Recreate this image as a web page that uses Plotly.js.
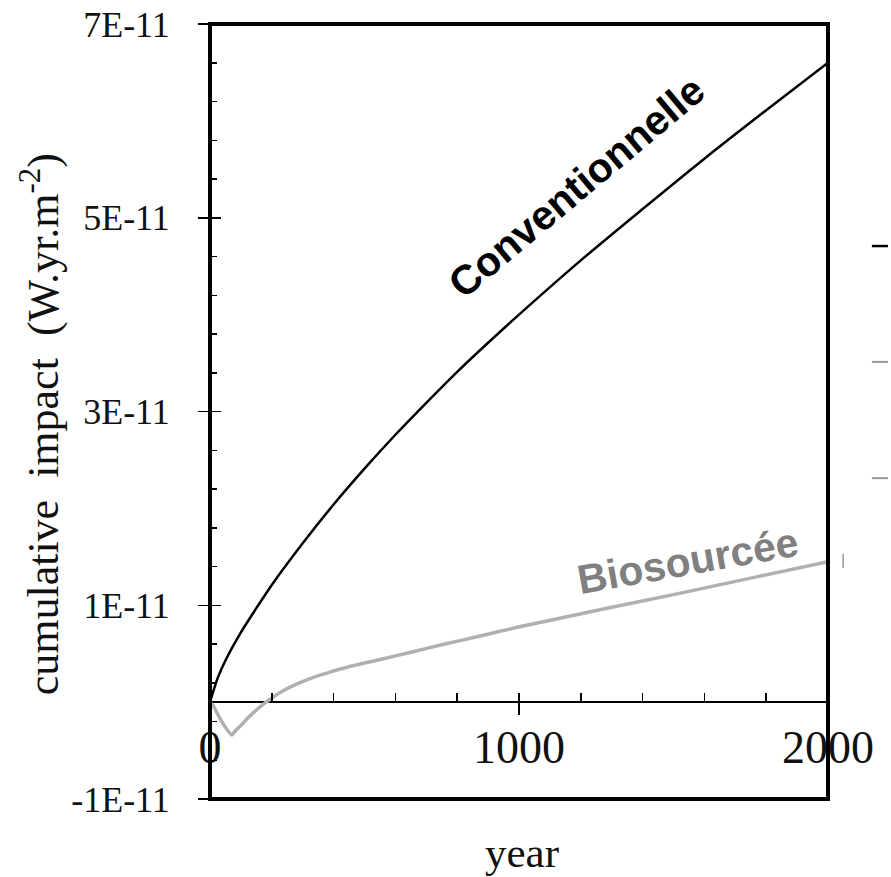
<!DOCTYPE html>
<html>
<head>
<meta charset="utf-8">
<script src="https://cdn.plot.ly/plotly-3.0.1.min.js"></script>
<style>html,body{margin:0;padding:0;background:#fff;}#chart{width:891px;height:877px;}</style>
</head>
<body>
<div id="chart"></div>
<script>
// values in units of 1E-11 W.yr.m-2
const yearsConv = [0, 25, 50, 100, 150, 200, 300, 400, 500, 600, 700, 800, 900, 1000, 1200, 1400, 1600, 1800, 2000];
const conventionnelle = [0, 0.25, 0.43, 0.72, 0.97, 1.21, 1.64, 2.04, 2.41, 2.76, 3.09, 3.41, 3.71, 4.00, 4.56, 5.09, 5.61, 6.11, 6.60];
const yearsBio = [0, 10, 30, 50, 70, 81, 100, 119, 145, 173, 200, 227, 280, 335, 390, 443, 551, 650, 760, 864, 1005, 1250, 1500, 1750, 2000];
const biosourcee = [0, -0.035, -0.155, -0.26, -0.34, -0.30, -0.24, -0.175, -0.095, -0.02, 0.043, 0.10, 0.185, 0.255, 0.312, 0.36, 0.44, 0.515, 0.60, 0.675, 0.78, 0.945, 1.11, 1.28, 1.45];

const yMajorVals = [-1, 1, 3, 5, 7];
const yMajorText = ['-1E-11', '1E-11', '3E-11', '5E-11', '7E-11'];
const yInnerMajorVals = [1, 3, 5];
const xLabelVals = [0, 1000, 2000];
const xLabelText = ['0', '1000', '2000'];
const xMinorVals = [200, 400, 600, 800, 1000, 1200, 1400, 1600, 1800];
const xCrossVals = [1000];

const serif = 'Liberation Serif, Times New Roman, serif';
const sans = 'Liberation Sans, Arial, sans-serif';

const traces = [
  {x: yearsConv, y: conventionnelle, type: 'scatter', mode: 'lines', line: {color: '#000', width: 2.5, shape: 'spline', smoothing: 0.8}, hoverinfo: 'skip', showlegend: false},
  {x: yearsBio, y: biosourcee, type: 'scatter', mode: 'lines', line: {color: '#b0b0b0', width: 3.5, shape: 'spline', smoothing: 0.5}, hoverinfo: 'skip', showlegend: false},
  // empty traces so the overlay tick axes are drawn
  {x: [], y: [], xaxis: 'x2', yaxis: 'y', type: 'scatter', mode: 'lines', hoverinfo: 'skip', showlegend: false},
  {x: [], y: [], xaxis: 'x3', yaxis: 'y', type: 'scatter', mode: 'lines', hoverinfo: 'skip', showlegend: false},
  {x: [], y: [], xaxis: 'x', yaxis: 'y2', type: 'scatter', mode: 'lines', hoverinfo: 'skip', showlegend: false}
];

const zeroPos = 1 / 8;
const layout = {
  width: 891, height: 877,
  margin: {l: 210, r: 63, t: 24, b: 78, pad: 0},
  paper_bgcolor: '#fff', plot_bgcolor: '#fff',
  showlegend: false,
  xaxis: {
    range: [0, 2000], anchor: 'free', position: zeroPos,
    showgrid: false, zeroline: false, showline: false,
    tickmode: 'array', tickvals: xLabelVals, ticktext: xLabelText,
    ticks: 'inside', ticklen: 9, tickwidth: 1.5, tickcolor: '#000',
    ticklabelstandoff: 14,
    tickfont: {family: serif, size: 46, color: '#111'},
    fixedrange: true
  },
  xaxis2: {
    range: [0, 2000], overlaying: 'x', anchor: 'free', position: zeroPos,
    showgrid: false, zeroline: false, showline: false,
    tickmode: 'array', tickvals: xMinorVals, showticklabels: false,
    ticks: 'inside', ticklen: 9, tickwidth: 1.5, tickcolor: '#000', fixedrange: true
  },
  xaxis3: {
    range: [0, 2000], overlaying: 'x', anchor: 'free', position: zeroPos,
    showgrid: false, zeroline: false, showline: false,
    tickmode: 'array', tickvals: xCrossVals, showticklabels: false,
    ticks: 'outside', ticklen: 12, tickwidth: 1.5, tickcolor: '#000', fixedrange: true
  },
  yaxis: {
    range: [-1, 7],
    showgrid: false, zeroline: true, zerolinecolor: '#000', zerolinewidth: 1.5,
    showline: false,
    tickmode: 'array', tickvals: yMajorVals, ticktext: yMajorText,
    ticks: 'outside', ticklen: 11, tickwidth: 1.5, tickcolor: '#000',
    ticklabelstandoff: 21,
    tickfont: {family: serif, size: 36, color: '#111'},
    minor: {tick0: -1, dtick: 0.4, ticks: 'inside', ticklen: 7, tickwidth: 1.5, tickcolor: '#000'},
    fixedrange: true
  },
  yaxis2: {
    range: [-1, 7], overlaying: 'y', side: 'left', anchor: 'x',
    showgrid: false, zeroline: false, showline: false,
    tickmode: 'array', tickvals: yInnerMajorVals, showticklabels: false,
    ticks: 'inside', ticklen: 11, tickwidth: 1.5, tickcolor: '#000', fixedrange: true
  },
  shapes: [
    {type: 'rect', xref: 'paper', yref: 'paper', x0: 0, x1: 1, y0: 0, y1: 1, line: {color: '#000', width: 4}, layer: 'above'},
    {type: 'line', xref: 'paper', yref: 'paper', x0: 1.071, x1: 1.097, y0: 0.7135, y1: 0.7135, line: {color: '#000', width: 2.5}},
    {type: 'line', xref: 'paper', yref: 'paper', x0: 1.071, x1: 1.097, y0: 0.564, y1: 0.564, line: {color: '#999', width: 2}},
    {type: 'line', xref: 'paper', yref: 'paper', x0: 1.071, x1: 1.097, y0: 0.414, y1: 0.414, line: {color: '#999', width: 2}},
    {type: 'line', xref: 'paper', yref: 'paper', x0: 1.0245, x1: 1.0245, y0: 0.298, y1: 0.316, line: {color: '#999', width: 1.5}}
  ],
  annotations: [
    {text: 'Conventionnelle', x: 1185, y: 5.32, xref: 'x', yref: 'y', showarrow: false, textangle: -40,
     xanchor: 'center', yanchor: 'middle',
     font: {family: sans, size: 41, color: '#000', weight: 'bold'}},
    {text: 'Biosourcée', x: 1545, y: 1.46, xref: 'x', yref: 'y', showarrow: false, textangle: -10,
     xanchor: 'center', yanchor: 'middle',
     font: {family: sans, size: 41, color: '#808080', weight: 'bold'}},
    {text: 'cumulative  impact  (W.yr.m<sup>-2</sup>)', xref: 'paper', yref: 'paper', x: -0.274, y: 0.483, showarrow: false, textangle: -90,
     xanchor: 'center', yanchor: 'middle',
     font: {family: serif, size: 44, color: '#111'}},
    {text: 'year', xref: 'paper', yref: 'paper', x: 0.505, y: -0.0684, showarrow: false,
     xanchor: 'center', yanchor: 'middle',
     font: {family: serif, size: 43, color: '#111'}}
  ]
};

Plotly.newPlot('chart', traces, layout, {staticPlot: true, displayModeBar: false});
</script>
</body>
</html>
